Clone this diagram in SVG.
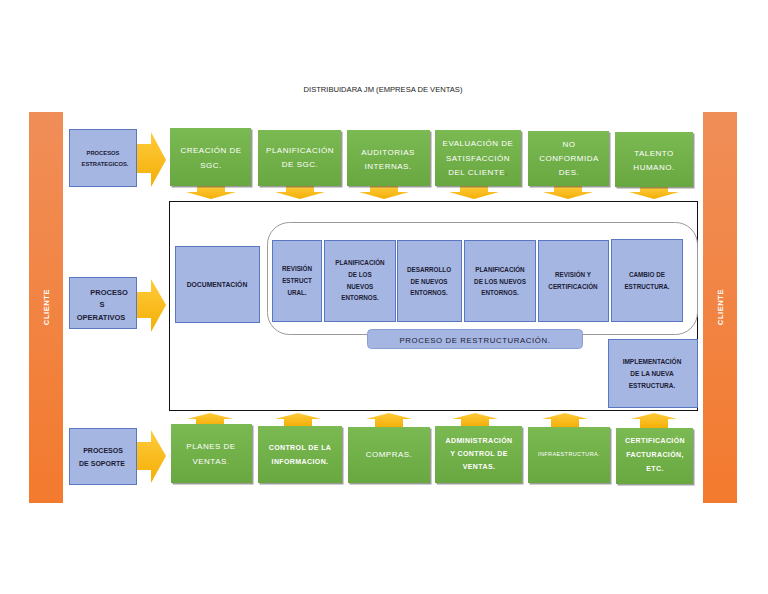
<svg xmlns="http://www.w3.org/2000/svg" width="768" height="594" viewBox="0 0 768 594">
<defs>
<linearGradient id="gOrange" x1="0" y1="0" x2="0" y2="1"><stop offset="0" stop-color="#F08E58"/><stop offset="1" stop-color="#F37A2E"/></linearGradient>
<linearGradient id="gGreen" x1="0" y1="0" x2="0" y2="1"><stop offset="0" stop-color="#7BB953"/><stop offset="1" stop-color="#69A741"/></linearGradient>
<linearGradient id="gYellow" x1="0" y1="0" x2="0" y2="1"><stop offset="0" stop-color="#FFCB3C"/><stop offset="1" stop-color="#F3AE05"/></linearGradient>
<style>
.orange{fill:url(#gOrange)}
.blue{fill:#A5B6E2;stroke:#5A78C2;stroke-width:1}
.green{fill:url(#gGreen)}
.shadow{fill:#4a4a4a;opacity:0.55}
.arrow{fill:url(#gYellow)}
text{font-family:"Liberation Sans",Arial,sans-serif;text-anchor:middle}
.tb{font-weight:bold;fill:#1b1b35;font-size:6.3px}
.tg{fill:#ffffff;font-size:8px;letter-spacing:0.5px}
.tgb{fill:#ffffff;font-size:7px;font-weight:bold;letter-spacing:0.4px}
.cl{fill:#ffffff;font-size:7.5px;font-weight:bold;letter-spacing:0.6px}
.dot{fill:#F6C61A}
</style>
</defs>
<rect width="768" height="594" fill="#ffffff"/>
<text id="title" x="383" y="92" style="font-size:7.6px;fill:#222">DISTRIBUIDARA JM (EMPRESA DE VENTAS)</text>

<g id="cliente-left">
<rect class="orange" x="29" y="112" width="34" height="391"/>
<text class="cl" transform="translate(49,307) rotate(-90)">CLIENTE</text>
</g>
<g id="cliente-right">
<rect class="orange" x="703" y="112" width="34" height="391"/>
<text class="cl" transform="translate(723,307) rotate(-90)">CLIENTE</text>
</g>

<g id="connectors">
<path class="arrow" d="M137,144 L151,144 L151,132 L166,160 L151,187 L151,173 L137,173 Z"/>
<path class="arrow" d="M136,292 L151,292 L151,279 L166,305 L151,332 L151,318 L136,318 Z"/>
<path class="arrow" d="M137,442 L151,442 L151,430 L166,456 L151,483 L151,470 L137,470 Z"/>
<path class="arrow" d="M197,186 L225,186 L225,192 L236,192 L211,199 L186,192 L197,192 Z"/>
<path class="arrow" d="M286,186 L314,186 L314,192 L325,192 L300,199 L275,192 L286,192 Z"/>
<path class="arrow" d="M370,186 L398,186 L398,192 L409,192 L384,199 L359,192 L370,192 Z"/>
<path class="arrow" d="M460,186 L488,186 L488,192 L499,192 L474,199 L449,192 L460,192 Z"/>
<path class="arrow" d="M554,186 L582,186 L582,192 L593,192 L568,199 L543,192 L554,192 Z"/>
<path class="arrow" d="M640,187 L668,187 L668,192 L679,192 L654,199 L629,192 L640,192 Z"/>
<path class="arrow" d="M210,413 L233,419 L224,419 L224,426 L196,426 L196,419 L187,419 Z"/>
<path class="arrow" d="M298,413 L321,419 L312,419 L312,427 L284,427 L284,419 L275,419 Z"/>
<path class="arrow" d="M389,413 L412,419 L403,419 L403,428 L375,428 L375,419 L366,419 Z"/>
<path class="arrow" d="M475,413 L498,419 L489,419 L489,427 L461,427 L461,419 L452,419 Z"/>
<path class="arrow" d="M565,413 L588,419 L579,419 L579,428 L551,428 L551,419 L542,419 Z"/>
<path class="arrow" d="M654,413 L677,419 L668,419 L668,429 L640,429 L640,419 L631,419 Z"/>
</g>

<g id="procesos-estrategicos">
<rect class="blue" x="69.5" y="129.5" width="67" height="57"/>
<text class="tb" style="font-size:5.8px" x="103" y="155">PROCESOS</text>
<text class="tb" style="font-size:5.8px" x="105" y="166">ESTRATEGICOS.</text>
</g>
<g id="procesos-operativos">
<rect class="blue" x="69.5" y="277.5" width="67" height="51"/>
<text class="tb" style="font-size:7.5px" x="109" y="295">PROCESO</text>
<text class="tb" style="font-size:7.5px" x="102" y="307">S</text>
<text class="tb" style="font-size:7.5px" x="101" y="320">OPERATIVOS</text>
</g>
<g id="procesos-soporte">
<rect class="blue" x="69.5" y="428.5" width="67" height="56"/>
<text class="tb" style="font-size:7px" x="103" y="453">PROCESOS</text>
<text class="tb" style="font-size:7px" x="103" y="466">DE SOPORTE<tspan class="dot">.</tspan></text>
</g>

<g id="creacion-sgc">
<rect class="shadow" x="171.5" y="129.5" width="81" height="58"/>
<rect class="green" x="170" y="128" width="81" height="58"/>
<text class="tg" x="211" y="153">CREACIÓN DE</text>
<text class="tg" x="211" y="168">SGC.</text>
</g>
<g id="planificacion-sgc">
<rect class="shadow" x="259.5" y="131.5" width="83" height="56"/>
<rect class="green" x="258" y="130" width="83" height="56"/>
<text class="tg" x="300" y="153">PLANIFICACIÓN</text>
<text class="tg" x="300" y="167">DE SGC.</text>
</g>
<g id="auditorias">
<rect class="shadow" x="348.5" y="131.5" width="83" height="56"/>
<rect class="green" x="347" y="130" width="83" height="56"/>
<text class="tg" x="388" y="155">AUDITORIAS</text>
<text class="tg" x="388" y="169">INTERNAS.</text>
</g>
<g id="evaluacion">
<rect class="shadow" x="436.5" y="131.5" width="86" height="56"/>
<rect class="green" x="435" y="130" width="86" height="56"/>
<text class="tg" x="478" y="146">EVALUACIÓN DE</text>
<text class="tg" x="478" y="161">SATISFACCIÓN</text>
<text class="tg" x="478" y="175">DEL CLIENTE<tspan fill="#3a3a10">.</tspan></text>
</g>
<g id="no-conformidades">
<rect class="shadow" x="529.5" y="132.5" width="81" height="55"/>
<rect class="green" x="528" y="131" width="81" height="55"/>
<text class="tg" x="569" y="147">NO</text>
<text class="tg" x="569" y="161">CONFORMIDA</text>
<text class="tg" x="569" y="175">DES.</text>
</g>
<g id="talento-humano">
<rect class="shadow" x="616.5" y="133.5" width="78" height="55"/>
<rect class="green" x="615" y="132" width="78" height="55"/>
<text class="tg" x="654" y="156">TALENTO</text>
<text class="tg" x="654" y="170">HUMANO.</text>
</g>

<g id="operativos-frame">
<rect x="169.5" y="201.5" width="528" height="209" fill="#ffffff" stroke="#111" stroke-width="1"/>
</g>
<g id="restructuracion-frame">
<rect x="267.5" y="222.5" width="430" height="112" rx="22" fill="#ffffff" stroke="#9a9a9a" stroke-width="1"/>
</g>

<g id="documentacion">
<rect class="blue" x="175.5" y="246.5" width="84" height="76"/>
<text class="tb" style="font-size:6.8px" x="217" y="287">DOCUMENTACIÓN</text>
</g>
<g id="revision-estructural">
<rect class="blue" x="272.5" y="240.5" width="49" height="81"/>
<text class="tb" x="297" y="271">REVISIÓN</text>
<text class="tb" x="297" y="283">ESTRUCT</text>
<text class="tb" x="297" y="295">URAL.</text>
</g>
<g id="planificacion-nuevos-1">
<rect class="blue" x="324.5" y="240.5" width="71" height="81"/>
<text class="tb" x="360" y="265">PLANIFICACIÓN</text>
<text class="tb" x="360" y="277">DE LOS</text>
<text class="tb" x="360" y="289">NUEVOS</text>
<text class="tb" x="360" y="300">ENTORNOS.</text>
</g>
<g id="desarrollo">
<rect class="blue" x="397.5" y="240.5" width="64" height="81"/>
<text class="tb" x="429" y="272">DESARROLLO</text>
<text class="tb" x="429" y="284">DE NUEVOS</text>
<text class="tb" x="429" y="295">ENTORNOS.</text>
</g>
<g id="planificacion-nuevos-2">
<rect class="blue" x="464.5" y="240.5" width="71" height="81"/>
<text class="tb" x="500" y="272">PLANIFICACIÓN</text>
<text class="tb" x="500" y="284">DE LOS NUEVOS</text>
<text class="tb" x="500" y="295">ENTORNOS.</text>
</g>
<g id="revision-certificacion">
<rect class="blue" x="538.5" y="240.5" width="70" height="81"/>
<text class="tb" x="573" y="277">REVISIÓN Y</text>
<text class="tb" x="573" y="289">CERTIFICACIÓN</text>
</g>
<g id="cambio-estructura">
<rect class="blue" x="611.5" y="239.5" width="71" height="82"/>
<text class="tb" x="647" y="277">CAMBIO DE</text>
<text class="tb" x="647" y="289">ESTRUCTURA.</text>
</g>
<g id="proceso-restructuracion">
<rect x="367.5" y="329.5" width="215" height="19" rx="4" fill="#A5B6E2" stroke="#8A9ED6" stroke-width="1"/>
<text x="475" y="343" style="font-size:7.8px;fill:#1b1b35;letter-spacing:0.6px">PROCESO DE RESTRUCTURACIÓN.</text>
</g>
<g id="implementacion">
<rect class="blue" x="608.5" y="339.5" width="89" height="68"/>
<text class="tb" style="font-size:6.5px" x="652" y="364">IMPLEMENTACIÓN</text>
<text class="tb" style="font-size:6.5px" x="652" y="376">DE LA NUEVA</text>
<text class="tb" style="font-size:6.5px" x="652" y="388">ESTRUCTURA.</text>
</g>

<g id="planes-ventas">
<rect class="shadow" x="172.5" y="425.5" width="81" height="59"/>
<rect class="green" x="171" y="424" width="81" height="59"/>
<text class="tg" x="211" y="449">PLANES DE</text>
<text class="tg" x="211" y="464">VENTAS<tspan class="dot">.</tspan></text>
</g>
<g id="control-informacion">
<rect class="shadow" x="259.5" y="427.5" width="84" height="57"/>
<rect class="green" x="258" y="426" width="84" height="57"/>
<text class="tgb" x="300" y="450">CONTROL DE LA</text>
<text class="tgb" x="300" y="464">INFORMACION.</text>
</g>
<g id="compras">
<rect class="shadow" x="349.5" y="428.5" width="82" height="56"/>
<rect class="green" x="348" y="427" width="82" height="56"/>
<text class="tg" x="389" y="457">COMPRAS.</text>
</g>
<g id="administracion">
<rect class="shadow" x="436.5" y="427.5" width="87" height="57"/>
<rect class="green" x="435" y="426" width="87" height="57"/>
<text class="tgb" x="479" y="443">ADMINISTRACIÓN</text>
<text class="tgb" x="479" y="456">Y CONTROL DE</text>
<text class="tgb" x="479" y="469">VENTAS.</text>
</g>
<g id="infraestructura">
<rect class="shadow" x="529.5" y="428.5" width="82" height="56"/>
<rect class="green" x="528" y="427" width="82" height="56"/>
<text x="569" y="456" style="fill:#ffffff;font-size:5.5px;letter-spacing:0.4px">INFRAESTRUCTURA.</text>
</g>
<g id="certificacion">
<rect class="shadow" x="617.5" y="429.5" width="77" height="56"/>
<rect class="green" x="616" y="428" width="77" height="56"/>
<text class="tgb" x="655" y="443">CERTIFICACIÓN</text>
<text class="tgb" x="655" y="457">FACTURACIÓN,</text>
<text class="tgb" x="655" y="471">ETC.</text>
</g>
</svg>
